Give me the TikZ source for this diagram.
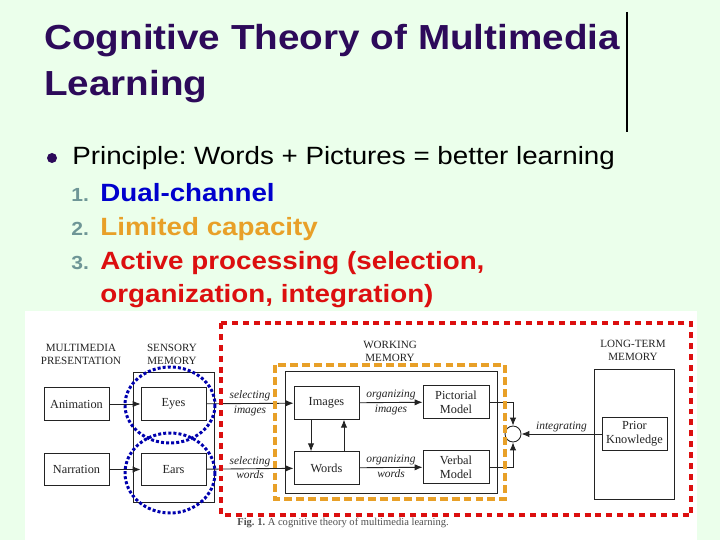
\documentclass[tikz,border=0pt]{standalone}
\usepackage{xcolor}
\usepackage{graphicx}
\usepackage{fontspec}
\newfontfamily\slidefont{Liberation Sans}
\newfontfamily\figfont{Liberation Serif}
\usepackage{tikz}
\usetikzlibrary{arrows.meta}
\frenchspacing

\definecolor{slidebg}{RGB}{235,255,235}
\definecolor{titlecol}{RGB}{45,10,90}
\definecolor{numcol}{RGB}{110,150,150}
\definecolor{chanblue}{RGB}{0,0,205}
\definecolor{caporange}{RGB}{232,160,40}
\definecolor{procred}{RGB}{220,15,15}
\definecolor{figink}{RGB}{35,35,35}
\newcommand{\squash}[1]{\scalebox{1}[0.9]{#1}}

\begin{document}
\begin{tikzpicture}[x=0.02cm, y=-0.02cm,
    slidetext/.style={anchor=base west, inner sep=0pt},
    box/.style={draw=figink, line width=0.5pt, fill=white, text=figink,
        minimum width=1.3cm, minimum height=0.65cm, align=center,
        inner sep=1pt, font=\figfont\fontsize{7}{8}\selectfont},
    store/.style={draw=figink, line width=0.5pt, inner sep=0pt},
    head/.style={align=center, text=figink, inner sep=0pt,
        font=\figfont\fontsize{6.3}{7.4}\selectfont},
    lbl/.style={text=figink, inner sep=1pt, font=\figfont\fontsize{6.5}{7}\selectfont\itshape},
    arr/.style={draw=figink, line width=0.5pt, -{Latex[length=4.5pt,width=3.6pt]}}
]
\useasboundingbox (0,0) rectangle (720,540);
\fill[slidebg] (0,0) rectangle (720,540);
\fill[white] (25,311) rectangle (697,540);
\draw[line width=0.8pt] (627,12) -- (627,132);

\node[slidetext, text=titlecol, font=\slidefont\bfseries\fontsize{22}{26}\selectfont]
    (title1) at (44,49.5) {\squash{Cognitive Theory of Multimedia}};
\node[slidetext, text=titlecol, font=\slidefont\bfseries\fontsize{22}{26}\selectfont]
    (title2) at (44,96) {\squash{Learning}};

\fill[titlecol] (52,158) circle (5);
\node[slidetext, font=\slidefont\fontsize{15.8}{19}\selectfont]
    (principle) at (72,165) {\squash{Principle: Words + Pictures = better learning}};
\node[slidetext, text=numcol, font=\slidefont\bfseries\fontsize{12}{14}\selectfont] (num1) at (71,202) {\squash{1.}};
\node[slidetext, text=numcol, font=\slidefont\bfseries\fontsize{12}{14}\selectfont] (num2) at (71,236) {\squash{2.}};
\node[slidetext, text=numcol, font=\slidefont\bfseries\fontsize{12}{14}\selectfont] (num3) at (71,270) {\squash{3.}};
\node[slidetext, text=chanblue, font=\slidefont\bfseries\fontsize{15.8}{19}\selectfont]
    (item1) at (100,202) {\squash{Dual-channel}};
\node[slidetext, text=caporange, font=\slidefont\bfseries\fontsize{15.8}{19}\selectfont]
    (item2) at (100,236) {\squash{Limited capacity}};
\node[slidetext, text=procred, font=\slidefont\bfseries\fontsize{15.8}{19}\selectfont]
    (item3) at (100,270) {\squash{Active processing (selection,}};
\node[slidetext, text=procred, font=\slidefont\bfseries\fontsize{15.8}{19}\selectfont]
    (item3b) at (100,303) {\squash{organization, integration)}};

\node[head] (hpres) at (81,354) {MULTIMEDIA\\PRESENTATION};
\node[head] (hsens) at (172,354) {SENSORY\\MEMORY};
\node[head] (hwork) at (390,351) {WORKING\\MEMORY};
\node[head] (hlong) at (633,350) {LONG-TERM\\MEMORY};

\node[store, minimum width=1.62cm, minimum height=2.6cm] (sensory) at (173.5,437) {};
\node[store, minimum width=4.24cm, minimum height=2.44cm] (working) at (391,432) {};
\node[store, minimum width=1.6cm, minimum height=2.6cm] (longterm) at (634,434) {};

\node[box] (anim) at (76.5,404) {Animation};
\node[box] (narr) at (76.5,469.5) {Narration};
\node[box] (eyes) at (173.5,404) {Eyes};
\node[box] (ears) at (173.5,469.5) {Ears};
\node[box] (images) at (326.5,403) {Images};
\node[box] (words) at (326.5,468) {Words};
\node[box, minimum width=1.32cm] (pict) at (456,402) {Pictorial\\Model};
\node[box, minimum width=1.32cm] (verb) at (456,467) {Verbal\\Model};
\node[box] (prior) at (634.5,434) {Prior\\Knowledge};
\node[draw=figink, line width=0.5pt, circle, fill=white, minimum size=0.32cm, inner sep=0pt] (mix) at (513,434) {};

\draw[arr] (anim) -- (eyes);
\draw[arr] (narr) -- (ears);
\draw[arr] (eyes) -- node[lbl, above] {selecting} node[lbl, below] {images} (images);
\draw[arr] (ears) -- node[lbl, above] {selecting} node[lbl, below] {words} (words);
\draw[arr] ([xshift=-0.31cm]images.south) -- ([xshift=-0.31cm]words.north);
\draw[arr] ([xshift=0.35cm]words.north) -- ([xshift=0.35cm]images.south);
\draw[arr] (images) -- node[lbl, above] {organizing} node[lbl, below] {images} (pict);
\draw[arr] (words) -- node[lbl, above] {organizing} node[lbl, below] {words} (verb);
\draw[arr] (pict.east) -| (mix.north);
\draw[arr] (verb.east) -| (mix.south);
\draw[arr] (prior) -- node[lbl, above] {integrating} (mix);

\node[anchor=base west, inner sep=0pt, text=figink!80, font=\figfont\fontsize{6}{7}\selectfont]
    (caption) at (237,525) {\textbf{Fig. 1.} A cognitive theory of multimedia learning.};

\draw[procred, line width=2.8pt, dash pattern=on 3.4pt off 2.8pt] (221,323) rectangle (691,515);
\draw[caporange, line width=2.3pt, dash pattern=on 4.5pt off 2.3pt] (275,365) rectangle (505,499);
\draw[chanblue!85!black, line width=1.7pt, dash pattern=on 1.7pt off 1.2pt] (170,405) ellipse (45 and 38);
\draw[chanblue!85!black, line width=1.7pt, dash pattern=on 1.7pt off 1.2pt] (170,473) ellipse (45 and 40);
\end{tikzpicture}
\end{document}
